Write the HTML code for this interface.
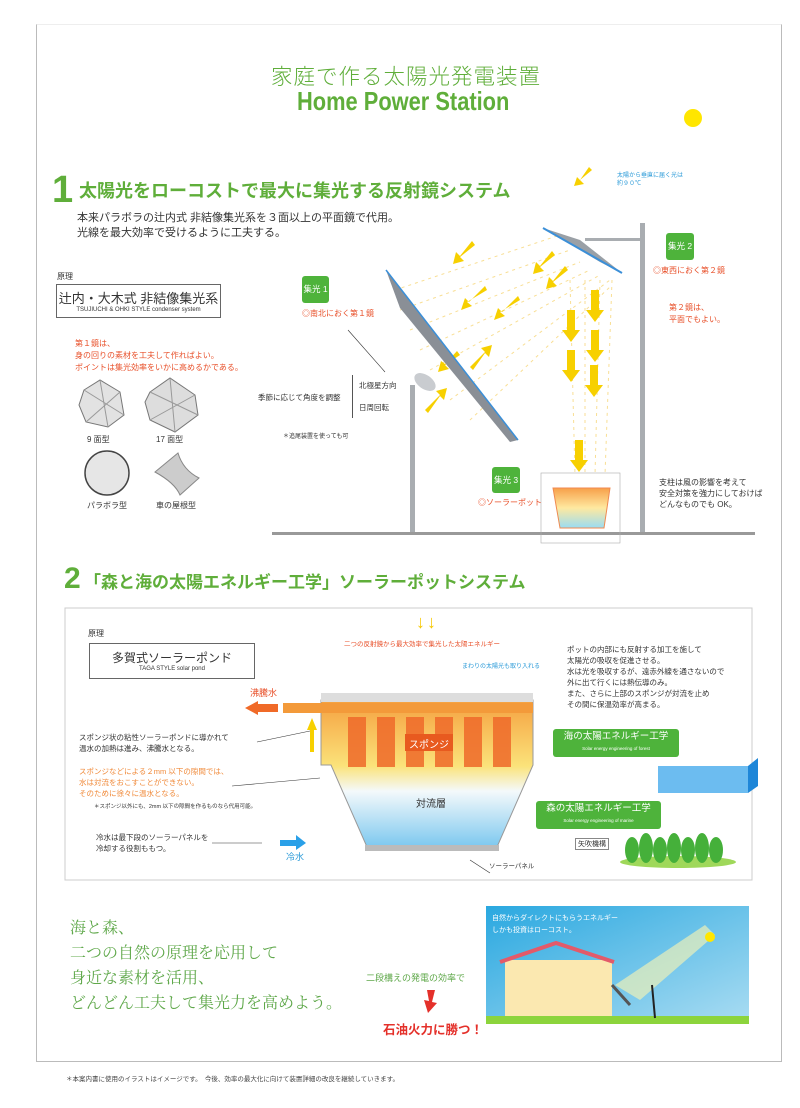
<!DOCTYPE html>
<html><head><meta charset="utf-8"><style>
*{margin:0;padding:0;box-sizing:border-box}
body{width:800px;height:1108px;background:#fff;position:relative;overflow:hidden;font-family:"Liberation Sans","Noto Sans CJK JP",sans-serif;color:#333}
.a{position:absolute;white-space:nowrap}
.g{color:#5fae3a}
.r{color:#e8502a}
.tag{position:absolute;background:#4eb33b;color:#fff;font-size:8.5px;border-radius:3px;text-align:center}
</style></head><body>
<div class="a" style="left:36px;top:24px;width:746px;height:1038px;border:1px solid #bbb;border-top-color:#eee"></div>

<div class="a g" style="left:271px;top:60px;font-size:21.5px;letter-spacing:1px;font-weight:300">家庭で作る太陽光発電装置</div>
<div class="a g" style="left:297px;top:86px;font-size:26px;font-weight:bold;transform:scaleX(0.84);transform-origin:left">Home Power Station</div>

<svg class="a" style="left:0;top:0" width="800" height="1108">
 <defs><linearGradient id="pg" x1="0" y1="0" x2="0" y2="1"><stop offset="0" stop-color="#f7a049"/><stop offset=".5" stop-color="#ffe9a0"/><stop offset="1" stop-color="#9adcf2"/></linearGradient>
 <linearGradient id="pot2" x1="0" y1="0" x2="0" y2="1"><stop offset="0" stop-color="#f5a040"/><stop offset=".45" stop-color="#fbe37a"/><stop offset=".62" stop-color="#f4f9fb"/><stop offset="1" stop-color="#7cc8ef"/></linearGradient>
 <linearGradient id="sky" x1="0" y1="0" x2="1" y2="1"><stop offset="0" stop-color="#2aa8e0"/><stop offset="1" stop-color="#a9dcf2"/></linearGradient></defs>
 <circle cx="693" cy="118" r="9" fill="#ffe600"/>
 <g stroke="#f7d77a" stroke-width="1" stroke-dasharray="3 4" opacity=".8">
  <line x1="395" y1="290" x2="560" y2="235"/><line x1="400" y1="310" x2="570" y2="250"/><line x1="410" y1="330" x2="580" y2="262"/>
  <line x1="420" y1="350" x2="590" y2="270"/><line x1="430" y1="370" x2="600" y2="275"/><line x1="450" y1="400" x2="610" y2="280"/>
  <line x1="470" y1="420" x2="612" y2="285"/>
  <line x1="570" y1="280" x2="575" y2="475"/><line x1="585" y1="280" x2="585" y2="475"/><line x1="600" y1="280" x2="595" y2="475"/><line x1="612" y1="280" x2="605" y2="475"/>
 </g>
 <g fill="#f7d000">
  <polygon points="555,255 540,267 544,271 533,274 536,262 540,266 552,251"/>
  <polygon points="568,270 553,282 557,286 546,289 549,277 553,281 565,266"/>
  <polygon points="592,170 580,180 584,184 574,186 577,177 580,180 589,167"/>
  <polygon points="475,245 460,257 464,261 453,264 456,252 460,256 472,241"/>
  <polygon points="487,290 467,302 472,306 461,310 465,298 469,302 485,286"/>
  <polygon points="520,300 500,312 505,316 494,320 498,308 502,312 518,296"/>
  <polygon points="460,355 445,365 449,369 438,372 441,361 445,364 457,351"/>
  <polygon points="425,410 440,395 436,391 447,388 444,400 440,396 428,413"/>
  <polygon points="470,367 485,352 481,348 492,345 489,357 485,353 473,370"/>
 </g>
 <g fill="#f7d000">
  <polygon points="591,290 599,290 599,310 604,310 595,322 586,310 591,310"/>
  <polygon points="567,310 575,310 575,330 580,330 571,342 562,330 567,330"/>
  <polygon points="591,330 599,330 599,350 604,350 595,362 586,350 591,350"/>
  <polygon points="567,350 575,350 575,370 580,370 571,382 562,370 567,370"/>
  <polygon points="590,365 598,365 598,385 603,385 594,397 585,385 590,385"/>
  <polygon points="575,440 583,440 583,460 588,460 579,472 570,460 575,460"/>
 </g>
 <polygon points="386,270 518,440 510,442 400,308" fill="#8a8f96"/>
 <line x1="386" y1="270" x2="518" y2="440" stroke="#3b8fd8" stroke-width="1.5"/>
 <line x1="348" y1="330" x2="385" y2="372" stroke="#333" stroke-width=".6"/>
 <ellipse cx="425" cy="382" rx="12" ry="7" fill="#c9ccd0" transform="rotate(35 425 382)"/>
 <rect x="410" y="385" width="5" height="150" fill="#a9adb1"/>
 <polygon points="543,228 580,240 622,273 600,262" fill="#9aa0a6"/>
 <line x1="543" y1="228" x2="622" y2="273" stroke="#3b8fd8" stroke-width="2"/>
 <rect x="585" y="238" width="58" height="3" fill="#a9adb1"/>
 <rect x="640" y="223" width="5" height="312" fill="#a9adb1"/>
 <rect x="272" y="532" width="483" height="3" fill="#999"/>
 <rect x="541" y="473" width="79" height="70" fill="none" stroke="#aaa" stroke-width=".6"/>
 <path d="M553 488 L610 488 L604 528 L560 528 Z" fill="url(#pg)" stroke="#f08a50"/>
 <!-- polyhedra -->
 <polygon points="84,390 100,380 120,392 124,415 108,427 86,422 79,405" fill="#e2e2e2" stroke="#777"/>
 <path d="M84,390 L124,415 M120,392 L86,422 M100,380 L108,427" stroke="#999" fill="none"/>
 <polygon points="150,392 170,378 195,395 198,415 175,432 150,420 145,402" fill="#ddd" stroke="#777"/>
 <path d="M150,392 L198,415 M195,395 L150,420 M170,378 L175,432" stroke="#999" fill="none"/>
 <circle cx="107" cy="473" r="22" fill="#e6e6e6" stroke="#444" stroke-width="1.5"/>
 <path d="M155 472 L178 453 Q183 470 199 478 L180 495 Q175 483 155 472Z" fill="#ccc" stroke="#888"/>
 <!-- section 2 -->
 <rect x="65" y="608" width="687" height="272" fill="none" stroke="#ccc"/>
 <path d="M321 700 L533 700 L533 765 L497 847 L367 847 L331 765 L321 765Z" fill="url(#pot2)" stroke="#999"/>
 <rect x="321" y="693" width="212" height="9" fill="#ddd"/>
 <rect x="283" y="703" width="250" height="10" fill="#f39a3a"/>
 <g fill="#ef6a2a" opacity=".85"><rect x="348" y="717" width="18" height="50"/><rect x="377" y="717" width="18" height="50"/><rect x="406" y="717" width="18" height="50"/><rect x="435" y="717" width="18" height="50"/><rect x="464" y="717" width="18" height="50"/><rect x="493" y="717" width="18" height="50"/></g>
 <rect x="405" y="734" width="48" height="17" fill="#e85a1f"/>
 <polygon points="245,708 258,701 258,704 278,704 278,712 258,712 258,715" fill="#f06a28"/>
 <polygon points="280,840 296,840 296,835 306,843 296,850 296,846 280,846" fill="#2aa0e8"/>
 <rect x="365" y="845" width="134" height="6" fill="#bbb"/>
 <rect x="553" y="729" width="126" height="28" rx="3" fill="#4eb33b"/>
 <rect x="536" y="801" width="125" height="28" rx="3" fill="#4eb33b"/>
 <polygon points="658,766 748,766 758,758 758,786 748,793 658,793" fill="#1e86d8"/>
 <rect x="658" y="766" width="90" height="27" fill="#6cbcf0"/>
 <ellipse cx="678" cy="862" rx="58" ry="6" fill="#9fd85a"/>
 <g fill="#45b03a"><ellipse cx="632" cy="850" rx="7" ry="13"/><ellipse cx="646" cy="848" rx="7" ry="15"/><ellipse cx="660" cy="850" rx="7" ry="13"/><ellipse cx="674" cy="848" rx="7" ry="15"/><ellipse cx="688" cy="850" rx="7" ry="13"/><ellipse cx="702" cy="848" rx="7" ry="15"/><ellipse cx="716" cy="850" rx="7" ry="13"/></g>
 <g stroke="#333" stroke-width=".6"><line x1="212" y1="843" x2="262" y2="843"/><line x1="257" y1="742" x2="310" y2="731"/><line x1="232" y1="786" x2="320" y2="778"/><line x1="470" y1="860" x2="490" y2="873"/></g>
 <polygon points="307,730 312,718 317,730 314,730 314,752 310,752 310,730" fill="#f7d000"/>
 <!-- bottom illustration -->
 <rect x="486" y="906" width="263" height="117" fill="url(#sky)"/>
 <rect x="486" y="1016" width="263" height="8" fill="#8cd43c"/>
 <rect x="505" y="960" width="107" height="56" fill="#fbe8b0"/>
 <polyline points="500,962 556,943 614,962" fill="none" stroke="#e35a6a" stroke-width="4"/>
 <polygon points="615,985 705,925 715,935 640,1000" fill="#fff6b0" opacity=".6"/>
 <line x1="612" y1="985" x2="630" y2="1005" stroke="#555" stroke-width="3"/>
 <line x1="652" y1="985" x2="655" y2="1018" stroke="#222" stroke-width="2"/>
 <circle cx="710" cy="937" r="5" fill="#ffe600"/>
 <polygon points="427,990 435,990 432,1002 437,1003 428,1013 424,1000 429,1001" fill="#e4302a"/>
</svg>

<div class="a g" style="left:52px;top:170px;font-size:38px;font-weight:bold;line-height:40px">1</div>
<div class="a g" style="left:79px;top:177px;font-size:18px;font-weight:bold">太陽光をローコストで最大に集光する反射鏡システム</div>
<div class="a" style="left:77px;top:211px;font-size:11px;line-height:15px">本来パラボラの辻内式 非結像集光系を３面以上の平面鏡で代用。<br>光線を最大効率で受けるように工夫する。</div>
<div class="a" style="left:617px;top:172px;font-size:6px;color:#2a9ad8;line-height:8px">太陽から垂直に届く光は<br>約９０℃</div>
<div class="a" style="left:57px;top:271px;font-size:8px">原理</div>
<div class="a" style="left:56px;top:284px;width:165px;height:34px;border:1px solid #666;text-align:center;font-size:13px;padding-top:3px">辻内・大木式 非結像集光系<div style="font-size:6px">TSUJIUCHI &amp; OHKI STYLE condenser system</div></div>
<div class="a r" style="left:75px;top:338px;font-size:8px;line-height:12px">第１鏡は、<br>身の回りの素材を工夫して作ればよい。<br>ポイントは集光効率をいかに高めるかである。</div>
<div class="a" style="left:87px;top:434px;font-size:8px">9 面型</div>
<div class="a" style="left:156px;top:434px;font-size:8px">17 面型</div>
<div class="a" style="left:87px;top:500px;font-size:8px">パラボラ型</div>
<div class="a" style="left:156px;top:500px;font-size:8px">車の屋根型</div>
<div class="tag" style="left:302px;top:276px;width:27px;height:27px;line-height:27px">集光 1</div>
<div class="a r" style="left:302px;top:308px;font-size:8px">◎南北におく第１鏡</div>
<div class="a" style="left:258px;top:392px;font-size:7.5px">季節に応じて角度を調整</div>
<div class="a" style="left:352px;top:375px;height:43px;border-left:1px solid #555;padding-left:6px;font-size:7.5px;line-height:22px">北極星方向<br>日周回転</div>
<div class="a" style="left:283px;top:431px;font-size:6px">＊追尾装置を使っても可</div>
<div class="tag" style="left:666px;top:233px;width:28px;height:27px;line-height:27px">集光 2</div>
<div class="a r" style="left:653px;top:265px;font-size:8px">◎東西におく第２鏡</div>
<div class="a r" style="left:669px;top:302px;font-size:8px;line-height:12px">第２鏡は、<br>平面でもよい。</div>
<div class="tag" style="left:492px;top:467px;width:28px;height:26px;line-height:26px">集光 3</div>
<div class="a r" style="left:478px;top:497px;font-size:8px">◎ソーラーポット</div>
<div class="a" style="left:659px;top:477px;font-size:8px;line-height:11px">支柱は風の影響を考えて<br>安全対策を強力にしておけば<br>どんなものでも OK。</div>

<div class="a g" style="left:64px;top:562px;font-size:30px;font-weight:bold;line-height:34px">2</div>
<div class="a g" style="left:84px;top:568px;font-size:17px;font-weight:bold">「森と海の太陽エネルギー工学」ソーラーポットシステム</div>
<div class="a" style="left:88px;top:628px;font-size:8px">原理</div>
<div class="a" style="left:89px;top:643px;width:166px;height:36px;border:1px solid #666;text-align:center;font-size:12px;padding-top:5px">多賀式ソーラーポンド<div style="font-size:6px">TAGA STYLE solar pond</div></div>
<div class="a" style="left:416px;top:612px;font-size:18px;font-weight:bold;color:#f7c800;letter-spacing:2px">↓↓</div>
<div class="a r" style="left:344px;top:638px;font-size:6.5px">二つの反射鏡から最大効率で集光した太陽エネルギー</div>
<div class="a" style="left:462px;top:661px;font-size:6px;color:#2a9ad8">まわりの太陽光も取り入れる</div>
<div class="a" style="left:567px;top:644px;font-size:7.5px;line-height:11px">ポットの内部にも反射する加工を施して<br>太陽光の吸収を促進させる。<br>水は光を吸収するが、遠赤外線を通さないので<br>外に出て行くには熱伝導のみ。<br>また、さらに上部のスポンジが対流を止め<br>その間に保温効率が高まる。</div>
<div class="a r" style="left:250px;top:686px;font-size:9px">沸騰水</div>
<div class="a" style="left:79px;top:732px;font-size:7.5px;line-height:11px">スポンジ状の粘性ソーラーポンドに導かれて<br>温水の加熱は進み、沸騰水となる。</div>
<div class="a" style="left:409px;top:736px;font-size:10px;color:#fff">スポンジ</div>
<div class="a" style="left:79px;top:766px;font-size:7.5px;line-height:11px;color:#f08a3a">スポンジなどによる２mm 以下の隙間では、<br>水は対流をおこすことができない。<br>そのために徐々に温水となる。</div>
<div class="a" style="left:94px;top:802px;font-size:5.5px">＊スポンジ以外にも、2mm 以下の隙間を作るものなら代用可能。</div>
<div class="a" style="left:416px;top:795px;font-size:10px">対流層</div>
<div class="a" style="left:553px;top:731px;width:126px;font-size:9.5px;color:#fff;line-height:12px;text-align:center">海の太陽エネルギー工学<div style="font-size:4.5px">Solar energy engineering of forest</div></div>
<div class="a" style="left:536px;top:803px;width:125px;font-size:9.5px;color:#fff;line-height:12px;text-align:center">森の太陽エネルギー工学<div style="font-size:4.5px">Solar energy engineering of marine</div></div>
<div class="a" style="left:96px;top:832px;font-size:7.5px;line-height:11px">冷水は最下段のソーラーパネルを<br>冷却する役割ももつ。</div>
<div class="a" style="left:286px;top:850px;font-size:9px;color:#2a9ad8">冷水</div>
<div class="a" style="left:489px;top:860px;font-size:6.5px">ソーラーパネル</div>
<div class="a" style="left:575px;top:838px;font-size:7px;border:1px solid #888;padding:0 2px">矢吹機構</div>

<div class="a" style="left:70px;top:916px;font-size:16px;line-height:25px;color:#5fa84a;font-family:'Liberation Serif','Noto Serif CJK SC',serif">海と森、<br>二つの自然の原理を応用して<br>身近な素材を活用、<br>どんどん工夫して集光力を高めよう。</div>
<div class="a" style="left:366px;top:971px;font-size:9px;color:#5fa84a">二段構えの発電の効率で</div>
<div class="a" style="left:383px;top:1019px;font-size:12.5px;font-weight:bold;color:#e4302a">石油火力に勝つ！</div>
<div class="a" style="left:492px;top:913px;font-size:7px;color:#fff;line-height:12px">自然からダイレクトにもらうエネルギー<br>しかも投資はローコスト。</div>
<div class="a" style="left:66px;top:1073px;font-size:6.5px;color:#444">＊本案内書に使用のイラストはイメージです。　今後、効率の最大化に向けて装置詳細の改良を継続していきます。</div>
</body></html>
